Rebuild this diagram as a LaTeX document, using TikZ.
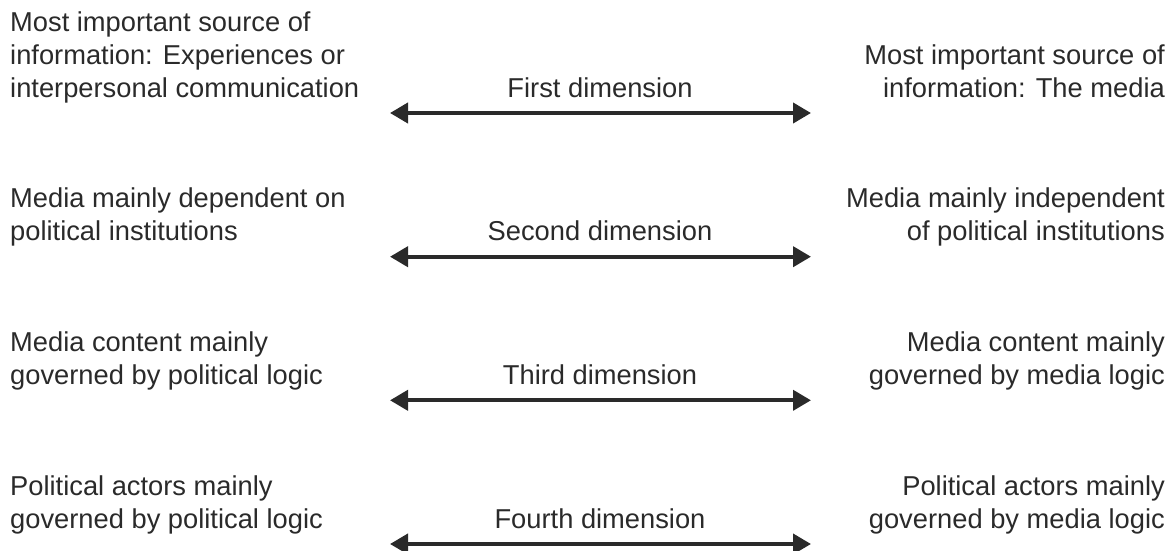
\documentclass[tikz,border=0pt]{standalone}
\usepackage{fontspec}
\setmainfont{Liberation Sans}
\usetikzlibrary{arrows.meta}
\definecolor{ink}{HTML}{2A2A2A}
\begin{document}
\begin{tikzpicture}[x=1pt,y=-1pt,
  txt/.style={font=\fontsize{27.3}{32.8}\selectfont, text=ink, inner sep=0pt},
  lefttxt/.style={txt, align=left, anchor=base west},
  righttxt/.style={txt, align=right, anchor=base east},
  dimlabel/.style={txt, anchor=base},
  dimarrow/.style={draw=ink, line width=4pt, {Triangle[length=18pt,width=20pt]}-{Triangle[length=18pt,width=20pt]}}]
\useasboundingbox (0,0) rectangle (1173,551);
% row 1
\node[lefttxt] (l1) at (10,97) {Most important source of\\information: Experiences or\\interpersonal communication};
\node[righttxt] (r1) at (1165,97) {Most important source of\\information: The media};
\node[dimlabel] (d1) at (600,97) {First dimension};
\coordinate (a1l) at (390,113);
\coordinate (a1r) at (811,113);
\draw[dimarrow] (a1l) -- (a1r);
% row 2
\node[lefttxt] (l2) at (10,240.7) {Media mainly dependent on\\political institutions};
\node[righttxt] (r2) at (1165,240.7) {Media mainly independent\\of political institutions};
\node[dimlabel] (d2) at (600,240.7) {Second dimension};
\coordinate (a2l) at (390,256.7);
\coordinate (a2r) at (811,256.7);
\draw[dimarrow] (a2l) -- (a2r);
% row 3
\node[lefttxt] (l3) at (10,384.3) {Media content mainly\\governed by political logic};
\node[righttxt] (r3) at (1165,384.3) {Media content mainly\\governed by media logic};
\node[dimlabel] (d3) at (600,384.3) {Third dimension};
\coordinate (a3l) at (390,400.3);
\coordinate (a3r) at (811,400.3);
\draw[dimarrow] (a3l) -- (a3r);
% row 4
\node[lefttxt] (l4) at (10,528) {Political actors mainly\\governed by political logic};
\node[righttxt] (r4) at (1165,528) {Political actors mainly\\governed by media logic};
\node[dimlabel] (d4) at (600,528) {Fourth dimension};
\coordinate (a4l) at (390,544);
\coordinate (a4r) at (811,544);
\draw[dimarrow] (a4l) -- (a4r);
\end{tikzpicture}
\end{document}
